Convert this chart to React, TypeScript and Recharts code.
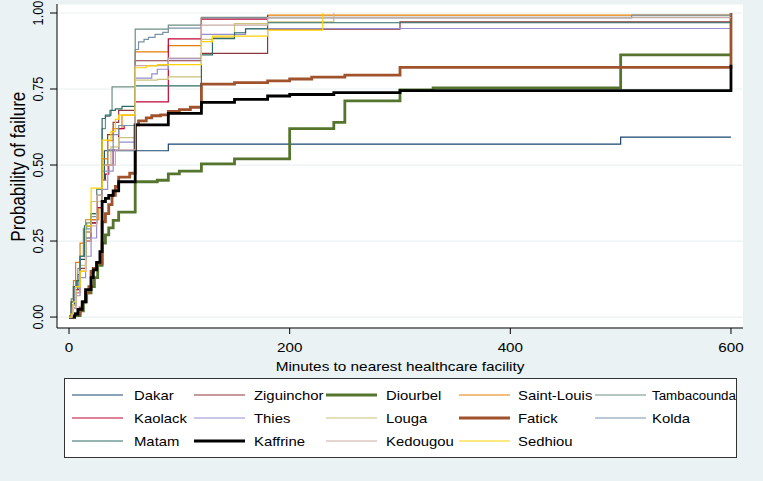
import React from 'react';
import { LineChart, Line, XAxis, YAxis, CartesianGrid, Label } from 'recharts';

type Pt = [number, number];

// Kaplan-Meier cumulative failure steps: [minutes, probability]
const dakar: Pt[] = [[0,0],[2,0.04],[5,0.09],[8,0.14],[10,0.19],[15,0.26],[20,0.31],[25,0.38],[30,0.45],[32,0.547],[90,0.569],[500,0.592],[600,0.592]];
const ziguinchor: Pt[] = [[0,0],[3,0.04],[6,0.09],[10,0.16],[15,0.28],[20,0.32],[25,0.42],[30,0.5],[35,0.6],[40,0.64],[45,0.68],[60,0.843],[120,0.867],[180,0.947],[300,0.971],[600,0.971]];
const diourbel: Pt[] = [[0,0],[5,0.005],[10,0.02],[13,0.05],[16,0.08],[20,0.1],[23,0.13],[26,0.17],[30,0.243],[33,0.27],[36,0.293],[40,0.318],[45,0.345],[60,0.445],[80,0.45],[90,0.471],[100,0.48],[120,0.504],[150,0.52],[200,0.62],[240,0.64],[250,0.711],[300,0.747],[330,0.754],[500,0.862],[600,0.862]];
const saintLouis: Pt[] = [[0,0],[2,0.05],[4,0.12],[6,0.18],[10,0.243],[15,0.32],[27,0.36],[30,0.52],[35,0.58],[40,0.62],[48,0.664],[60,0.872],[90,0.893],[120,0.985],[180,0.993],[600,0.993]];
const tambacounda: Pt[] = [[0,0],[2,0.06],[4,0.1],[6,0.12],[10,0.2],[13,0.29],[16,0.31],[20,0.34],[25,0.42],[30,0.62],[33,0.66],[37,0.68],[39,0.757],[60,0.947],[90,0.96],[120,0.986],[600,0.986]];
const kaolack: Pt[] = [[0,0],[3,0.03],[6,0.08],[10,0.15],[15,0.25],[20,0.31],[25,0.36],[30,0.45],[33,0.47],[36,0.5],[40,0.55],[45,0.62],[50,0.63],[60,0.708],[90,0.915],[120,0.98],[180,0.993]];
const thies: Pt[] = [[0,0],[3,0.03],[6,0.07],[10,0.13],[15,0.2],[20,0.26],[25,0.38],[30,0.42],[35,0.48],[40,0.55],[45,0.575],[60,0.786],[75,0.8],[80,0.815],[90,0.85],[120,0.93],[160,0.949],[600,0.949]];
const louga: Pt[] = [[0,0],[3,0.04],[6,0.1],[10,0.17],[15,0.28],[20,0.38],[30,0.5],[38,0.56],[45,0.59],[60,0.779],[80,0.782],[90,0.79],[120,0.913],[130,0.92],[150,0.965],[180,0.971],[240,1.0]];
const fatick: Pt[] = [[0,0],[5,0.01],[10,0.03],[12,0.05],[15,0.08],[18,0.1],[20,0.15],[22,0.16],[25,0.177],[30,0.313],[33,0.34],[36,0.37],[39,0.4],[42,0.43],[45,0.46],[55,0.473],[60,0.632],[63,0.645],[70,0.655],[75,0.662],[83,0.665],[90,0.676],[100,0.682],[110,0.69],[120,0.766],[150,0.771],[180,0.777],[200,0.783],[220,0.789],[250,0.796],[300,0.821],[600,1.0]];
const kolda: Pt[] = [[0,0],[2,0.05],[5,0.1],[8,0.16],[10,0.2],[15,0.29],[20,0.33],[25,0.4],[30,0.48],[35,0.55],[40,0.6],[45,0.63],[60,0.88],[63,0.905],[68,0.913],[72,0.92],[78,0.93],[85,0.936],[90,0.95],[120,0.984],[510,0.993],[600,0.993]];
const matam: Pt[] = [[0,0],[2,0.05],[4,0.1],[7,0.12],[10,0.2],[14,0.3],[20,0.34],[25,0.4],[30,0.653],[33,0.664],[38,0.68],[42,0.685],[48,0.693],[60,0.76],[120,0.862],[130,0.916],[150,0.935],[160,0.948],[180,0.968],[600,0.968]];
const kaffrine: Pt[] = [[0,0],[5,0.01],[8,0.025],[12,0.05],[15,0.09],[20,0.13],[22,0.155],[25,0.18],[28,0.215],[30,0.38],[33,0.39],[36,0.4],[40,0.415],[45,0.445],[60,0.632],[90,0.67],[120,0.706],[150,0.716],[180,0.727],[200,0.732],[240,0.738],[300,0.745],[600,0.83]];
const kedougou: Pt[] = [[0,0],[3,0.03],[6,0.08],[10,0.15],[15,0.25],[20,0.3],[25,0.4],[30,0.45],[35,0.5],[42,0.55],[60,0.827],[90,0.852],[120,0.96],[180,0.985],[600,0.985]];
const sedhiou: Pt[] = [[0,0],[2,0.01],[4,0.05],[6,0.1],[10,0.15],[15,0.3],[20,0.424],[30,0.582],[38,0.61],[42,0.65],[45,0.664],[60,0.82],[70,0.826],[80,0.83],[120,0.906],[130,0.924],[180,0.944],[230,1.0]];

const regionNames = ['Dakar','Ziguinchor','Diourbel','Saint-Louis','Tambacounda','Kaolack','Thies','Louga','Fatick','Kolda','Matam','Kaffrine','Kedougou','Sedhiou'];
const regionData: Pt[][] = [dakar, ziguinchor, diourbel, saintLouis, tambacounda, kaolack, thies, louga, fatick, kolda, matam, kaffrine, kedougou, sedhiou];
const regionColors = ['#1a476f','#90353b','#55752f','#e37e00','#6e8e84','#c10534','#938dd2','#cac27e','#a0522d','#7b92a8','#2d6d66','#000000','#c9aba5','#ffd200'];
const thickRegions = ['Diourbel','Fatick','Kaffrine'];

const xTicks = [0, 200, 400, 600];
const yTicks = [0, 0.25, 0.5, 0.75, 1];

const FONT = '"Liberation Sans", Arial, Helvetica, sans-serif';
const SX = 1.19;
const BG = '#eaf2f3';

const XTick = (props: any) => {
  const { x, payload } = props;
  return (
    <text transform={`translate(${x},351.5) scale(${SX},1)`} textAnchor="middle" fontSize={12.8} fontFamily={FONT} fill="#000">
      {String(payload.value)}
    </text>
  );
};

const YTick = (props: any) => {
  const { y, payload } = props;
  return (
    <text transform={`translate(43,${y}) scale(${SX},1) rotate(-90)`} textAnchor="middle" fontSize={12.8} fontFamily={FONT} fill="#000">
      {Number(payload.value).toFixed(2)}
    </text>
  );
};

const legendLineX = [72, 194, 326, 459, 595];
const legendTextX = [134, 254, 386, 518, 652];
const legendRowY = [395, 418, 441];

export default function App() {
  return (
    <div style={{ position: 'absolute', left: 0, top: 0, width: 763, height: 481, background: BG, overflow: 'hidden' }}>
      <LineChart width={763} height={481} margin={{ top: 4, right: 20, bottom: 103, left: 0 }}>
        <CartesianGrid horizontal vertical={false} fill="#ffffff" stroke={BG} strokeWidth={1.2} />
        <XAxis
          type="number"
          dataKey="t"
          domain={[-10.9, 610.9]}
          ticks={xTicks}
          allowDataOverflow
          height={50}
          tickSize={6}
          tick={<XTick />}
          axisLine={{ stroke: '#000', strokeWidth: 1 }}
          tickLine={{ stroke: '#000', strokeWidth: 1 }}
        >
          <Label
            content={() => (
              <text transform={`translate(400,371) scale(${SX},1)`} textAnchor="middle" fontSize={12.9} fontFamily={FONT} fill="#000">
                Minutes to nearest healthcare facility
              </text>
            )}
          />
        </XAxis>
        <YAxis
          type="number"
          domain={[-0.036, 1.0296]}
          ticks={yTicks}
          allowDataOverflow
          width={57}
          tickSize={7}
          tick={<YTick />}
          axisLine={{ stroke: '#000', strokeWidth: 1 }}
          tickLine={{ stroke: '#000', strokeWidth: 1 }}
        >
          <Label
            content={() => (
              <text transform={`translate(25,166.7) scale(${SX},1) rotate(-90)`} textAnchor="middle" fontSize={17.1} fontFamily={FONT} fill="#000">
                Probability of failure
              </text>
            )}
          />
        </YAxis>
        {regionNames.map((name, i) => (
          <Line
            key={name}
            name={name}
            data={regionData[i].map(([t, p]) => ({ t, p }))}
            dataKey="p"
            type="stepAfter"
            stroke={regionColors[i]}
            strokeWidth={thickRegions.includes(name) ? 2.8 : 1.2}
            dot={false}
            activeDot={false}
            isAnimationActive={false}
          />
        ))}
      </LineChart>
      <svg width={763} height={481} style={{ position: 'absolute', left: 0, top: 0, pointerEvents: 'none' }}>
        <rect x={64.5} y={378.5} width={672} height={79} fill="#ffffff" stroke="#333333" strokeWidth={1} />
        {regionNames.map((name, i) => {
          const row = Math.floor(i / 5);
          const col = i % 5;
          const y = legendRowY[row];
          const thick = thickRegions.includes(name);
          return (
            <g key={name}>
              <line x1={legendLineX[col]} x2={legendLineX[col] + 51} y1={y} y2={y} stroke={regionColors[i]} strokeWidth={thick ? 2.8 : 1.2} />
              {name === 'Tambacounda' ? (
                <text x={legendTextX[col]} y={y + 4.6} fontSize={12.5} fontFamily={FONT} fill="#000" textLength={84} lengthAdjust="spacingAndGlyphs">
                  {name}
                </text>
              ) : (
                <text transform={`translate(${legendTextX[col]},${y + 4.6}) scale(${SX},1)`} fontSize={12.5} fontFamily={FONT} fill="#000">
                  {name}
                </text>
              )}
            </g>
          );
        })}
      </svg>
    </div>
  );
}
